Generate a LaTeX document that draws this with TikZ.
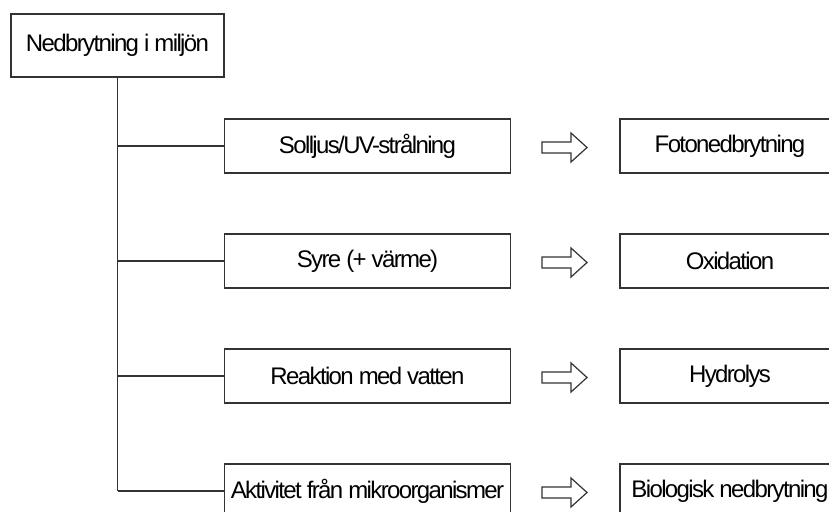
\documentclass[tikz,border=0pt]{standalone}
\usepackage{fontspec}
\setmainfont{Liberation Sans}[LetterSpace=-6.8]
\usetikzlibrary{calc}

\begin{document}
\begin{tikzpicture}[x=1pt,y=-1pt,
    line/.style={draw=black!80,line width=1.2pt},
    box/.style={line,minimum height=54pt,inner sep=0pt,font=\fontsize{24}{28}\selectfont},
    cause/.style={box,minimum width=286pt},
    result/.style={box,minimum width=220pt}]
    \useasboundingbox (0,0) rectangle (829,511);
    \clip (0,0) rectangle (829,511);

    \node[box,minimum width=213pt,minimum height=63pt] (top) at (117.5,45.5) {Nedbrytning i miljön};

    \foreach \n/\y/\c/\r in {1/146/{Solljus/UV-strålning}/Fotonedbrytning,
        2/261/{Syre (+ värme)}/Oxidation,
        3/376/{Reaktion med vatten}/Hydrolys,
        4/491/{Aktivitet från mikroorganismer}/{Biologisk nedbrytning}} {
        \node[cause] (c\n) at (367.5,\y) {\c};
        \node[result] (r\n) at (730,\y) {\r};
        \draw[line] (top.south |- c\n.west) -- (c\n.west);
        % hollow arrow between the boxes
        \coordinate (a\n) at (542,\y+1.5);
        \draw[line] (a\n) ++(0,-5.5) -- ++(29,0) -- ++(0,-9) -- ++(16,14.5)
            -- ++(-16,14.5) -- ++(0,-9) -- ++(-29,0) -- cycle;
    }

    \draw[line] (top.south) -- (top.south |- c4.west);
\end{tikzpicture}
\end{document}
